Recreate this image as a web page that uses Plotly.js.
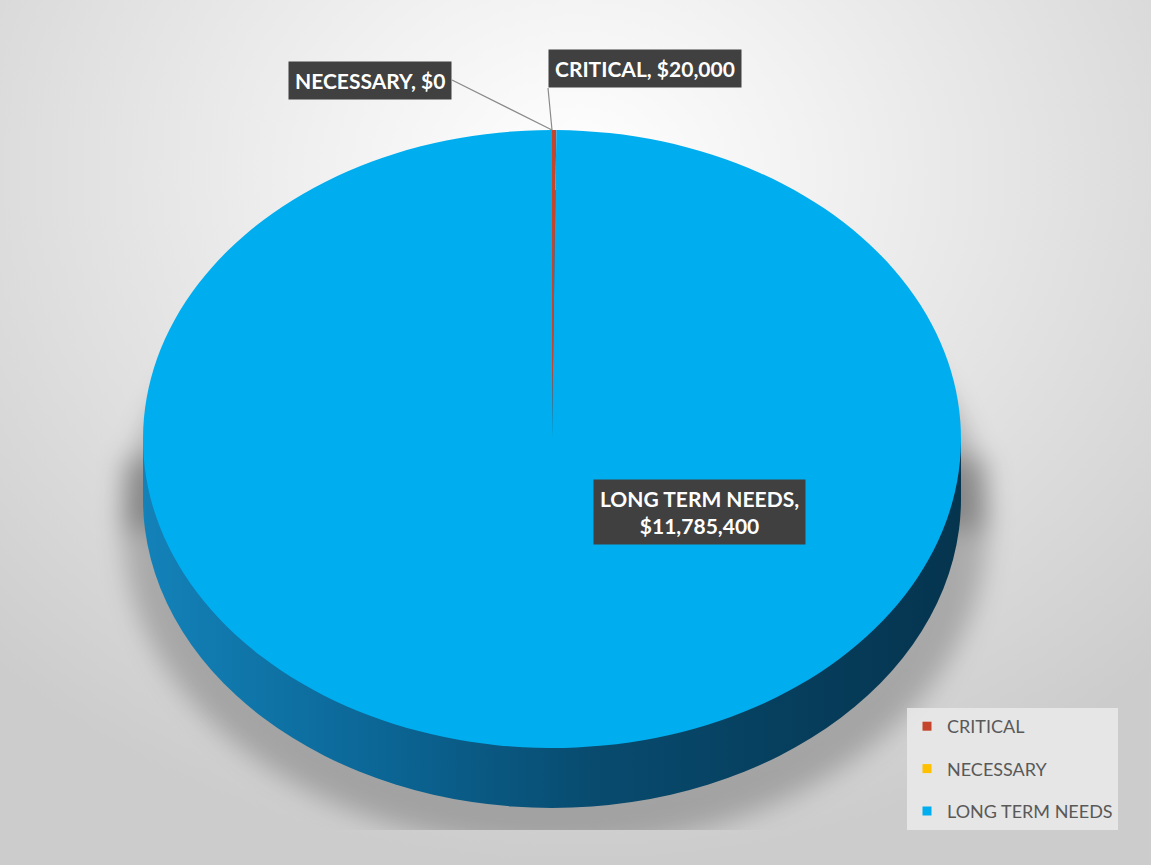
<!DOCTYPE html>
<html>
<head>
<meta charset="utf-8">
<script src="https://cdn.plot.ly/plotly-3.0.1.min.js"></script>
<style>
  html, body { margin: 0; padding: 0; }
  #chart {
    width: 1151px; height: 865px;
    background: radial-gradient(ellipse 72% 80% at 50% 20%, #ffffff 0%, #f2f2f2 28%, #dddddd 68%, #cccccc 100%);
  }
</style>
</head>
<body>
<div id="chart"></div>
<script>
// ---- data ----
const categories = ["CRITICAL", "NECESSARY", "LONG TERM NEEDS"];
const amounts = [20000, 0, 11785400];
const sliceColors = ["#C4442C", "#FFC000", "#00AEEF"];

// ---- geometry (layout only) ----
const W = 1151, H = 865;
const cx = 552, cy = 439, rx = 409, ry = 309, depth = 60;
const squash = ry / rx;

function px(x) { return x / W; }
function py(y) { return 1 - y / H; }
function fmt(v) { return "$" + v.toLocaleString("en-US"); }

const pie = {
  type: "pie",
  labels: categories,
  values: amounts,
  sort: false,
  direction: "clockwise",
  rotation: 0,
  textinfo: "none",
  hoverinfo: "label+value",
  showlegend: false,
  marker: { colors: sliceColors, line: { width: 0 } },
  domain: { x: [px(cx - rx), px(cx + rx)], y: [py(cy + rx), py(cy - rx)] }
};

// legend entries (one per category)
const legendTraces = categories.map((c, i) => ({
  type: "scatter", mode: "markers", x: [null], y: [null],
  name: c, legendgroup: "g" + i,
  marker: { symbol: "square", size: 9, color: sliceColors[i] },
  hoverinfo: "skip"
}));

const labelFont = { family: "Lato, 'Open Sans', sans-serif", size: 21, color: "#ffffff", weight: 700 };
const anchor = { x: px(cx), y: py(cy - ry) };

const annotations = [
  {
    xref: "paper", yref: "paper", x: anchor.x, y: anchor.y,
    text: categories[1] + ", " + fmt(amounts[1]),
    showarrow: true, arrowhead: 0, arrowwidth: 1.2, arrowcolor: "#8a8a8a",
    xanchor: "right", yanchor: "middle",
    ax: 452 - cx, ay: 80 - (cy - ry), bgcolor: "#404040", borderpad: 6, font: labelFont
  },
  {
    xref: "paper", yref: "paper", x: anchor.x, y: anchor.y,
    text: categories[0] + ", " + fmt(amounts[0]),
    showarrow: true, arrowhead: 0, arrowwidth: 1.2, arrowcolor: "#8a8a8a",
    xanchor: "left", yanchor: "bottom",
    ax: 548 - cx, ay: 88 - (cy - ry), bgcolor: "#404040", borderpad: 6, font: labelFont
  },
  {
    xref: "paper", yref: "paper", x: px(699), y: py(512),
    text: categories[2] + ",<br>" + fmt(amounts[2]),
    showarrow: false, bgcolor: "#404040", borderpad: 6, font: labelFont
  }
];

const shapes = [
  // soft shadow
  { type: "rect", xref: "paper", yref: "paper", layer: "below",
    x0: px(cx - rx - 20), x1: px(cx + rx + 26), y0: py(cy + 20), y1: py(cy + depth + 30),
    fillcolor: "rgba(0,0,0,0.22)", line: { width: 0 } },
  { type: "circle", xref: "paper", yref: "paper", layer: "below",
    x0: px(cx - rx - 20), x1: px(cx + rx + 26), y0: py(cy + depth + 30 + ry + 10), y1: py(cy + depth + 30 - ry - 10),
    fillcolor: "rgba(0,0,0,0.22)", line: { width: 0 } },
  // side of the cylinder
  { type: "rect", xref: "paper", yref: "paper", layer: "below",
    x0: px(cx - rx), x1: px(cx + rx), y0: py(cy), y1: py(cy + depth),
    fillcolor: "#0a5e8a", line: { width: 0 } },
  { type: "circle", xref: "paper", yref: "paper", layer: "below",
    x0: px(cx - rx), x1: px(cx + rx), y0: py(cy + depth + ry), y1: py(cy + depth - ry),
    fillcolor: "#0a5e8a", line: { width: 0 } }
];

const layout = {
  width: W, height: H,
  margin: { l: 0, r: 0, t: 0, b: 0 },
  paper_bgcolor: "rgba(0,0,0,0)",
  plot_bgcolor: "rgba(0,0,0,0)",
  xaxis: { visible: false, range: [0, 1] },
  yaxis: { visible: false, range: [0, 1] },
  showlegend: true,
  legend: {
    x: px(907), y: py(708), xanchor: "left", yanchor: "top",
    bgcolor: "rgba(234,234,234,0.85)", borderwidth: 0,
    tracegroupgap: 16,
    font: { family: "Lato, 'Open Sans', sans-serif", size: 18, color: "#595959" }
  },
  annotations: annotations,
  shapes: shapes
};

Plotly.newPlot("chart", [pie].concat(legendTraces), layout, { displayModeBar: false, staticPlot: true }).then(gd => {
  // squash the pie into an ellipse (3-D look)
  const pl = gd.querySelector(".pielayer");
  if (pl) pl.setAttribute("transform", `translate(0,${cy}) scale(1,${squash}) translate(0,${-cy})`);

  const paths = gd.querySelectorAll(".shapelayer path");
  if (paths.length >= 4) {
    const svg = paths[0].ownerSVGElement;
    const NS = "http://www.w3.org/2000/svg";
    let defs = svg.querySelector("defs");
    if (!defs) { defs = document.createElementNS(NS, "defs"); svg.insertBefore(defs, svg.firstChild); }
    defs.insertAdjacentHTML("beforeend",
      '<linearGradient id="sideGrad" x1="0" y1="0" x2="1" y2="0">' +
      '<stop offset="0" stop-color="#1382b9"/><stop offset="0.3" stop-color="#0b6594"/>' +
      '<stop offset="0.55" stop-color="#084b6f"/><stop offset="1" stop-color="#05344e"/></linearGradient>' +
      '<filter id="softShadow" filterUnits="userSpaceOnUse" x="0" y="0" width="' + W + '" height="' + H + '">' +
      '<feGaussianBlur stdDeviation="13"/></filter>' +
      '<clipPath id="floorClip" clipPathUnits="userSpaceOnUse"><rect x="0" y="0" width="' + W + '" height="830"/></clipPath>');
    const g = document.createElementNS(NS, "g");
    g.setAttribute("clip-path", "url(#floorClip)");
    const g2 = document.createElementNS(NS, "g");
    g2.setAttribute("filter", "url(#softShadow)");
    paths[0].parentNode.insertBefore(g, paths[0]);
    g.appendChild(g2);
    g2.appendChild(paths[0]);
    g2.appendChild(paths[1]);
    paths[2].style.fill = "url(#sideGrad)";
    paths[3].style.fill = "url(#sideGrad)";
  }
});
</script>
</body>
</html>
